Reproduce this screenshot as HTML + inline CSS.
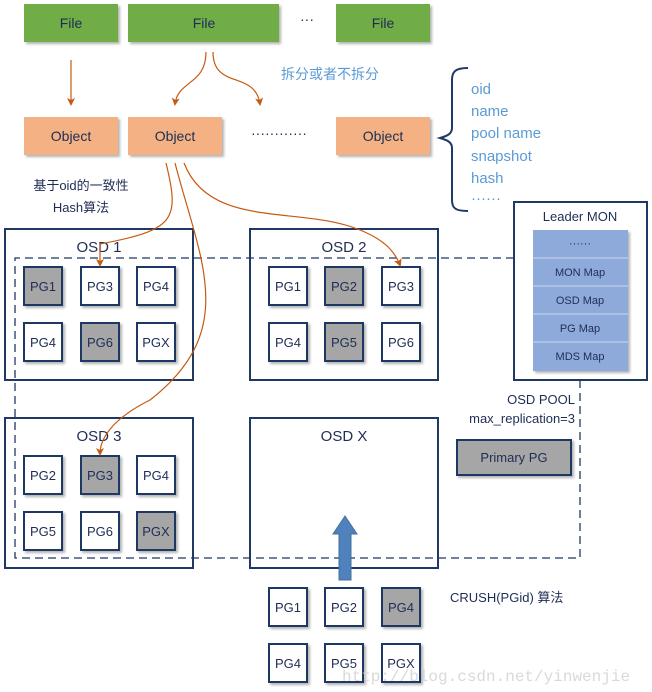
<!DOCTYPE html>
<html><head><meta charset="utf-8"><style>
body{margin:0;background:#fff;}
svg{display:block;font-family:"Liberation Sans","Noto Sans CJK SC",sans-serif;}
</style></head><body>
<svg width="652" height="692" viewBox="0 0 652 692" xmlns="http://www.w3.org/2000/svg">
<defs>
<marker id="ah" markerWidth="8" markerHeight="8" refX="6" refY="4" orient="auto" markerUnits="userSpaceOnUse"><path d="M0,0 L8,4 L0,8 L2,4 z" fill="#c55a11"/></marker>
<filter id="sh" x="-10%" y="-10%" width="130%" height="130%"><feDropShadow dx="2" dy="2" stdDeviation="1.2" flood-color="#000" flood-opacity="0.3"/></filter>
</defs>
<g font-size="14" fill="#1f2d55" text-anchor="middle">
<g filter="url(#sh)" fill="#70ad47">
<rect x="24" y="4" width="94" height="38"/><rect x="128" y="4" width="151" height="38"/><rect x="336" y="4" width="94" height="38"/>
</g>
<text x="71" y="28">File</text><text x="204" y="28">File</text><text x="383" y="28">File</text>
<text x="307" y="24">···</text>
<g filter="url(#sh)" fill="#f4b183">
<rect x="24" y="117" width="94" height="38"/><rect x="128" y="117" width="94" height="38"/><rect x="336" y="117" width="94" height="38"/>
</g>
<text x="71" y="141">Object</text><text x="175" y="141">Object</text><text x="383" y="141">Object</text>
<text x="279" y="138">············</text>
</g>
<text x="330" y="79" font-size="14" fill="#5b9bd5" text-anchor="middle">拆分或者不拆分</text>
<path d="M468,68 C455,68 452,72 452,80 L452,128 C452,134 447,136 440,138 C447,140 452,142 452,148 L452,200 C452,208 455,211 468,211" fill="none" stroke="#1f3864" stroke-width="2"/>
<g font-size="15" fill="#5b9bd5">
<text x="471" y="94">oid</text><text x="471" y="116">name</text><text x="471" y="138">pool name</text><text x="471" y="161">snapshot</text><text x="471" y="183">hash</text><text x="471" y="203">······</text>
</g>
<g font-size="13" fill="#1f2d55" text-anchor="middle">
<text x="81" y="190">基于oid的一致性</text><text x="81" y="212">Hash算法</text>
</g>
<g fill="#fff" stroke="#1f3864" stroke-width="2">
<rect x="5" y="229" width="188" height="151"/><rect x="250" y="229" width="188" height="151"/>
<rect x="5" y="418" width="188" height="150"/><rect x="250" y="418" width="188" height="150"/>
<rect x="514" y="202" width="133" height="178"/>
</g>
<g font-size="15" fill="#1f2d55" text-anchor="middle">
<text x="99" y="252">OSD 1</text><text x="344" y="252">OSD 2</text>
<text x="99" y="441">OSD 3</text><text x="344" y="441">OSD X</text>
<text x="580" y="221" font-size="13">Leader MON</text>
</g>
<path d="M514,258 L15,258 L15,558 L580,558 L580,380" fill="none" stroke="#1f3864" stroke-width="1.3" stroke-dasharray="8,5"/>
<g filter="url(#sh)"><rect x="533" y="230" width="95" height="141" fill="#8eaadb"/></g>
<g stroke="#c9d5ee" stroke-width="1"><line x1="533" y1="258" x2="628" y2="258"/><line x1="533" y1="286" x2="628" y2="286"/><line x1="533" y1="314" x2="628" y2="314"/><line x1="533" y1="342" x2="628" y2="342"/></g>
<g font-size="11" fill="#1f2d55" text-anchor="middle">
<text x="580" y="247">······</text><text x="580" y="276">MON Map</text><text x="580" y="304">OSD Map</text><text x="580" y="332">PG Map</text><text x="580" y="360">MDS Map</text>
</g>
<g font-size="13" fill="#1f2d55" text-anchor="end">
<text x="575" y="404">OSD POOL</text><text x="575" y="423">max_replication=3</text>
</g>
<g filter="url(#sh)"><rect x="457" y="440" width="114" height="35" fill="#a6a6a6" stroke="#1f3864" stroke-width="2"/></g>
<text x="514" y="462" font-size="13" fill="#1f2d55" text-anchor="middle">Primary PG</text>
<g font-size="13" fill="#1f2d55" text-anchor="middle" stroke-width="2">
<g filter="url(#sh)" stroke="#1f3864">
<rect x="24" y="267" width="38" height="38" fill="#a6a6a6"/><rect x="81" y="267" width="38" height="38" fill="#fff"/><rect x="137" y="267" width="38" height="38" fill="#fff"/>
<rect x="24" y="323" width="38" height="38" fill="#fff"/><rect x="81" y="323" width="38" height="38" fill="#a6a6a6"/><rect x="137" y="323" width="38" height="38" fill="#fff"/>
<rect x="269" y="267" width="38" height="38" fill="#fff"/><rect x="325" y="267" width="38" height="38" fill="#a6a6a6"/><rect x="382" y="267" width="38" height="38" fill="#fff"/>
<rect x="269" y="323" width="38" height="38" fill="#fff"/><rect x="325" y="323" width="38" height="38" fill="#a6a6a6"/><rect x="382" y="323" width="38" height="38" fill="#fff"/>
<rect x="24" y="456" width="38" height="38" fill="#fff"/><rect x="81" y="456" width="38" height="38" fill="#a6a6a6"/><rect x="137" y="456" width="38" height="38" fill="#fff"/>
<rect x="24" y="512" width="38" height="38" fill="#fff"/><rect x="81" y="512" width="38" height="38" fill="#fff"/><rect x="137" y="512" width="38" height="38" fill="#a6a6a6"/>
<rect x="269" y="588" width="38" height="38" fill="#fff"/><rect x="325" y="588" width="38" height="38" fill="#fff"/><rect x="382" y="588" width="38" height="38" fill="#a6a6a6"/>
<rect x="269" y="644" width="38" height="38" fill="#fff"/><rect x="325" y="644" width="38" height="38" fill="#fff"/><rect x="382" y="644" width="38" height="38" fill="#fff"/>
</g>
<text x="43" y="291">PG1</text><text x="100" y="291">PG3</text><text x="156" y="291">PG4</text>
<text x="43" y="347">PG4</text><text x="100" y="347">PG6</text><text x="156" y="347">PGX</text>
<text x="288" y="291">PG1</text><text x="344" y="291">PG2</text><text x="401" y="291">PG3</text>
<text x="288" y="347">PG4</text><text x="344" y="347">PG5</text><text x="401" y="347">PG6</text>
<text x="43" y="480">PG2</text><text x="100" y="480">PG3</text><text x="156" y="480">PG4</text>
<text x="43" y="536">PG5</text><text x="100" y="536">PG6</text><text x="156" y="536">PGX</text>
<text x="288" y="612">PG1</text><text x="344" y="612">PG2</text><text x="401" y="612">PG4</text>
<text x="288" y="668">PG4</text><text x="344" y="668">PG5</text><text x="401" y="668">PGX</text>
</g>
<g fill="none" stroke="#c55a11" stroke-width="1.2">
<path d="M71,60 L71,104" marker-end="url(#ah)"/>
<path d="M206,52 C206,85 178,80 175,104" marker-end="url(#ah)"/>
<path d="M213,52 C213,90 255,70 260,104" marker-end="url(#ah)"/>
<path d="M166,163 C180,220 175,230 100,244 C100,250 100,258 100,265" marker-end="url(#ah)"/>
<path d="M175,163 C200,260 240,330 150,400 C110,420 100,440 100,454" marker-end="url(#ah)"/>
<path d="M184,163 C210,230 300,205 360,230 C385,240 395,252 400,265" marker-end="url(#ah)"/>
</g>
<path d="M339,580 L339,534 L333,534 L345,516 L357,534 L351,534 L351,580 z" fill="#4f81bd" stroke="#41719c" stroke-width="1"/>
<text x="450" y="602" font-size="13" fill="#1f2d55">CRUSH(PGid) 算法</text>
<text x="342" y="681" font-size="16" fill="#d0d0d0" font-family="Liberation Mono,monospace" opacity="0.8">http://blog.csdn.net/yinwenjie</text>
</svg>
</body></html>
